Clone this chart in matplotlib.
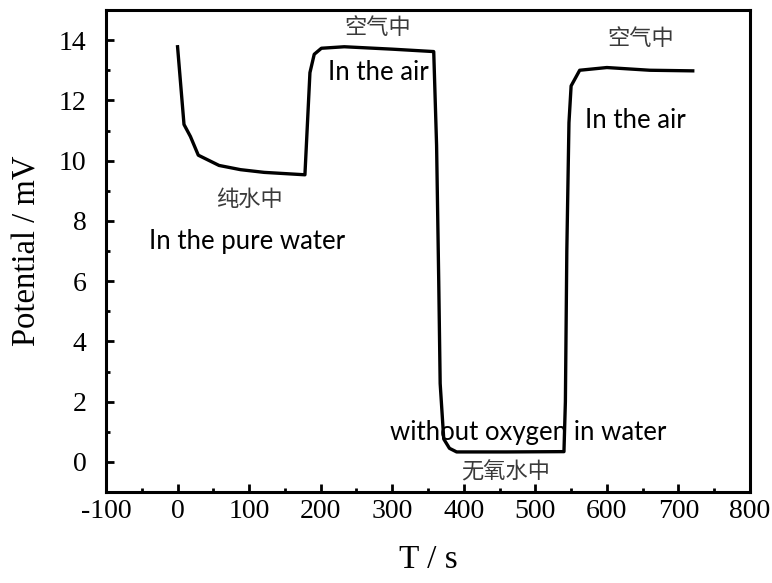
import matplotlib
matplotlib.use("Agg")
import matplotlib.pyplot as plt
from matplotlib.ticker import MultipleLocator, FuncFormatter

# Potential response data
t = [0, 9, 18, 29, 58, 88, 121, 178, 185, 191, 201, 233, 300, 358,
     362, 365, 367, 372, 380, 390, 460, 540, 542,
     544, 547, 550, 562, 600, 660, 720]
potential = [13.78, 11.2, 10.8, 10.18, 9.84, 9.7, 9.61, 9.53, 12.92, 13.53, 13.73, 13.78, 13.7, 13.62,
             10.5, 6.0, 2.6, 0.76, 0.45, 0.33, 0.33, 0.34, 2.0,
             7.0, 11.26, 12.48, 13.0, 13.09, 13.0, 12.98]

# Annotation labels and their positions in data units
cn_labels = ["空气中", "空气中", "纯水中", "无氧水中"]
cn_pos = [(280, 14.43), (647, 14.07), (100, 8.7), (459, -0.33)]
en_labels = ["In the air", "In the air", "In the pure water", "without oxygen in water"]
en_pos = [(280, 12.93), (640, 11.33), (97, 7.33), (490, 0.97)]

fig = plt.figure(figsize=(7.72, 5.83), dpi=100)
ax = fig.add_axes([106 / 772, 91 / 583, 644 / 772, 482 / 583])

ax.plot(t, potential, color="black", lw=2.4, zorder=3)

for lab, (x, y) in zip(cn_labels, cn_pos):
    ax.text(x, y, lab, ha="center", va="center", fontsize=16, color="#3a3a3a",
            family=["Noto Sans CJK SC", "DejaVu Sans"], fontweight="light")
for lab, (x, y) in zip(en_labels, en_pos):
    ax.text(x, y, lab, ha="center", va="center", fontsize=18.5, color="black",
            family="Lato")

ax.set_xlim(-100, 800)
ax.set_ylim(-1, 15)
ax.xaxis.set_major_locator(MultipleLocator(100))
ax.xaxis.set_minor_locator(MultipleLocator(50))
ax.yaxis.set_minor_locator(MultipleLocator(1))
ax.set_yticks(range(0, 15, 2))
ax.xaxis.set_major_formatter(FuncFormatter(lambda v, p: f"{v:.0f}"))

ax.tick_params(which="both", direction="in", top=False, right=False, width=2,
               labelsize=20)
ax.tick_params(axis="x", pad=5)
ax.tick_params(axis="y", pad=14)
ax.tick_params(which="major", length=6)
ax.tick_params(which="minor", length=3)
for lab in ax.get_xticklabels() + ax.get_yticklabels():
    lab.set_family("Liberation Serif")

for sp in ax.spines.values():
    sp.set_linewidth(2.2)

ax.set_xlabel("T / s", family="Liberation Serif", fontsize=24, labelpad=15)
ax.set_ylabel("Potential / mV", family="Liberation Serif", fontsize=23.5, labelpad=12)

fig.savefig("out.png", dpi=100)
